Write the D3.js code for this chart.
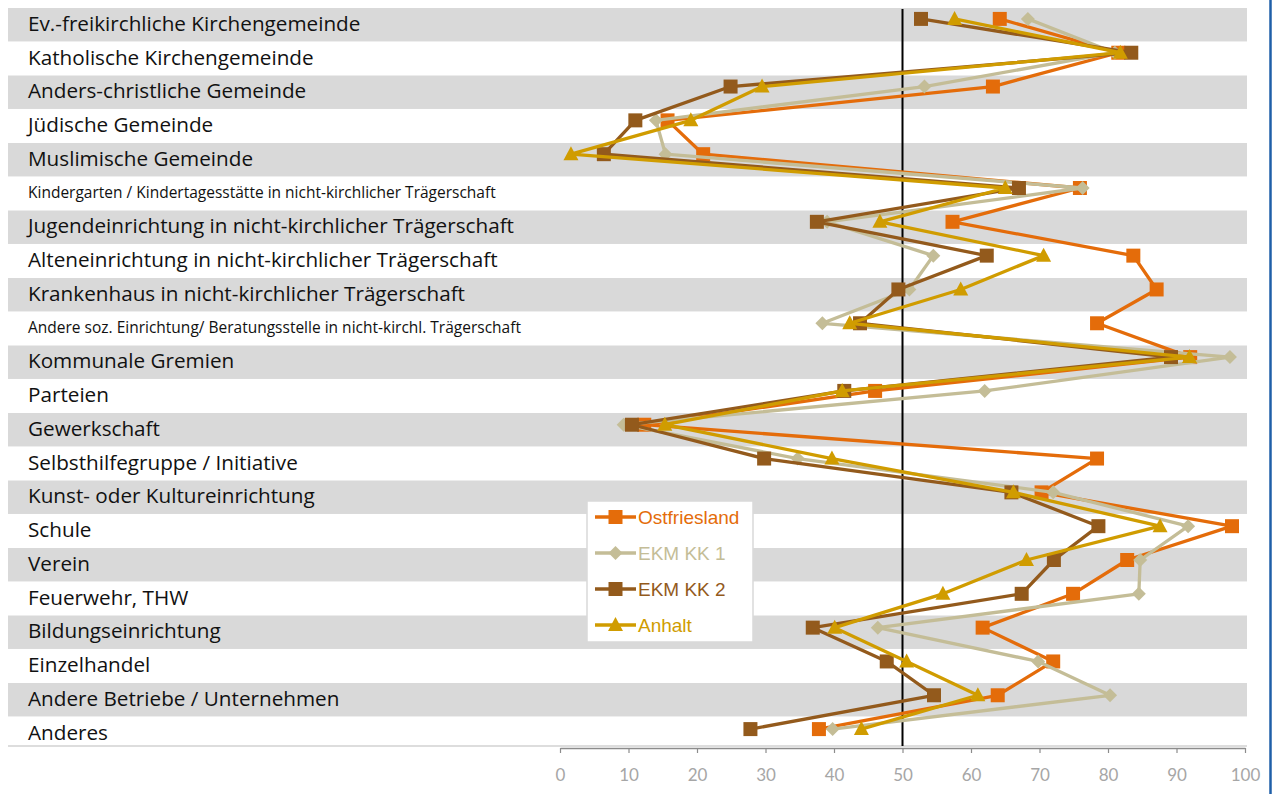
<!DOCTYPE html>
<html>
<head>
<meta charset="utf-8">
<script src="https://cdn.jsdelivr.net/npm/d3@7"></script>
<style>
  html, body { margin: 0; padding: 0; background: #ffffff; }
  svg { display: block; }
</style>
</head>
<body>
<svg id="chart" width="1273" height="794"></svg>
<script>
// Kooperationspartner der Gemeinden (Anteil in %), vier Befragungsgebiete
const categories = [
  "Ev.-freikirchliche Kirchengemeinde",
  "Katholische Kirchengemeinde",
  "Anders-christliche Gemeinde",
  "Jüdische Gemeinde",
  "Muslimische Gemeinde",
  "Kindergarten / Kindertagesstätte in nicht-kirchlicher Trägerschaft",
  "Jugendeinrichtung in nicht-kirchlicher Trägerschaft",
  "Alteneinrichtung in nicht-kirchlicher Trägerschaft",
  "Krankenhaus in nicht-kirchlicher Trägerschaft",
  "Andere soz. Einrichtung/ Beratungsstelle in nicht-kirchl. Trägerschaft",
  "Kommunale Gremien",
  "Parteien",
  "Gewerkschaft",
  "Selbsthilfegruppe / Initiative",
  "Kunst- oder Kultureinrichtung",
  "Schule",
  "Verein",
  "Feuerwehr, THW",
  "Bildungseinrichtung",
  "Einzelhandel",
  "Andere Betriebe / Unternehmen",
  "Anderes"
];

const ostfriesland = [64.2, 81.5, 63.2, 15.7, 20.9, 75.9, 57.3, 83.7, 87.1, 78.4, 92.0,
                      46.0, 12.3, 78.4, 70.3, 98.1, 82.8, 74.9, 61.7, 72.0, 63.9, 37.8];
const ekmKK1      = [68.3, 81.0, 53.2, 14.0, 15.4, 76.3, 39.0, 54.5, 51.0, 38.3, 97.8,
                      62.0,  9.3, 34.7, 72.0, 91.7, 84.7, 84.5, 46.4, 69.8, 80.3, 39.8];
const ekmKK2      = [52.7, 83.4, 24.9, 11.0,  6.4, 67.0, 37.5, 62.3, 49.4, 43.8, 89.2,
                      41.5, 10.5, 29.8, 65.9, 78.6, 72.1, 67.4, 36.9, 47.7, 54.6, 27.8];
const anhalt      = [57.6, 81.8, 29.5, 19.1,  1.6, 65.0, 46.7, 70.6, 58.5, 42.3, 91.9,
                      41.2, 15.3, 39.7, 66.2, 87.6, 68.1, 55.9, 40.1, 50.6, 61.0, 44.0];

const seriesNames = ["Ostfriesland", "EKM KK 1", "EKM KK 2", "Anhalt"];
const xTicks = [0, 10, 20, 30, 40, 50, 60, 70, 80, 90, 100];
const referenceValue = 50;

// ---- appearance ----
const colors = {
  "Ostfriesland": "#E46C0A",
  "EKM KK 1": "#C4BD97",
  "EKM KK 2": "#935A1C",
  "Anhalt": "#D09C00"
};
const markerType = {
  "Ostfriesland": "square",
  "EKM KK 1": "diamond",
  "EKM KK 2": "square",
  "Anhalt": "triangle"
};

const series = [
  { name: "Ostfriesland", values: ostfriesland },
  { name: "EKM KK 1", values: ekmKK1 },
  { name: "EKM KK 2", values: ekmKK2 },
  { name: "Anhalt", values: anhalt }
];

const svg = d3.select("#chart");

// value axis
const x = d3.scaleLinear().domain([0, 100]).range([560, 1245]);
// rows of the category table (stripes and labels)
const rowBand = d3.scaleBand().domain(d3.range(categories.length)).range([8, 750.5]);
// plot rows for the data points
const yBand = d3.scaleBand().domain(d3.range(categories.length)).range([2, 746]);
const yc = i => yBand(i) + yBand.bandwidth() / 2;

// stripes on alternate rows
svg.append("g")
  .selectAll("rect")
  .data(d3.range(categories.length).filter(i => i % 2 === 0))
  .join("rect")
  .attr("x", 8)
  .attr("y", i => rowBand(i))
  .attr("width", 1239)
  .attr("height", rowBand.bandwidth() - 0.3)
  .attr("fill", "#D9D9D9");

// bottom rule of the table
svg.append("line")
  .attr("x1", 8).attr("x2", 1247)
  .attr("y1", 746).attr("y2", 746)
  .attr("stroke", "#DDDDDD").attr("stroke-width", 2);

// category labels
svg.append("g")
  .selectAll("text")
  .data(categories)
  .join("text")
  .attr("x", 28)
  .attr("y", (d, i) => rowBand(i) + rowBand.bandwidth() / 2)
  .attr("dy", "0.29em")
  .attr("font-family", "'Open Sans', Lato, sans-serif")
  .attr("font-size", d => d.length > 60 ? 15.5 : 20.7)
  .attr("fill", "#111111")
  .text(d => d);

// x axis
const axisG = svg.append("g")
  .attr("transform", "translate(0,748)")
  .call(d3.axisBottom(x).tickValues(xTicks).tickSize(5).tickSizeOuter(0).tickPadding(16));
axisG.select(".domain").attr("stroke", "#8C8C8C").attr("stroke-width", 1.5);
axisG.selectAll(".tick line").attr("stroke", "#8C8C8C").attr("stroke-width", 1.2);
axisG.selectAll(".tick text")
  .attr("fill", "#A6A6A6")
  .attr("font-family", "Lato, 'Open Sans', sans-serif")
  .attr("font-size", 17);

// reference line at 50 %
svg.append("line")
  .attr("x1", x(referenceValue)).attr("x2", x(referenceValue))
  .attr("y1", 9).attr("y2", 746)
  .attr("stroke", "#000000").attr("stroke-width", 2);

// marker shapes
function markerPath(type) {
  if (type === "square") {
    const h = 7;
    return `M${-h},${-h}H${h}V${h}H${-h}Z`;
  }
  if (type === "diamond") {
    const h = 7;
    return `M0,${-h}L${h},0L0,${h}L${-h},0Z`;
  }
  // triangle pointing up
  const w = 7.5, t = 8, b = 6;
  return `M0,${-t}L${w},${b}L${-w},${b}Z`;
}

const line = d3.line()
  .x(d => x(d.v))
  .y(d => yc(d.i));

const seriesG = svg.append("g")
  .selectAll("g")
  .data(series)
  .join("g");

seriesG.append("path")
  .attr("d", s => line(s.values.map((v, i) => ({ v, i }))))
  .attr("fill", "none")
  .attr("stroke", s => colors[s.name])
  .attr("stroke-width", 3.3)
  .attr("stroke-linejoin", "round");

seriesG.selectAll("path.marker")
  .data(s => s.values.map((v, i) => ({ v, i, name: s.name })))
  .join("path")
  .attr("class", "marker")
  .attr("transform", d => `translate(${x(d.v)},${yc(d.i)})`)
  .attr("d", d => markerPath(markerType[d.name]))
  .attr("fill", d => colors[d.name]);

// legend
const legend = svg.append("g");
legend.append("rect")
  .attr("x", 587).attr("y", 501)
  .attr("width", 166).attr("height", 141)
  .attr("fill", "#ffffff")
  .attr("stroke", "#D9D9D9").attr("stroke-width", 1.5);

const legendY = d3.scalePoint().domain(seriesNames).range([517, 625]);
const items = legend.selectAll("g.item")
  .data(seriesNames)
  .join("g")
  .attr("class", "item")
  .attr("transform", d => `translate(0,${legendY(d)})`);

items.append("line")
  .attr("x1", 595).attr("x2", 636)
  .attr("stroke", d => colors[d]).attr("stroke-width", 3.3);
items.append("path")
  .attr("transform", "translate(615.5,0)")
  .attr("d", d => markerPath(markerType[d]))
  .attr("fill", d => colors[d]);
items.append("text")
  .attr("x", 638)
  .attr("dy", "0.35em")
  .attr("font-family", "'Liberation Sans', Arial, sans-serif")
  .attr("font-size", 19)
  .attr("fill", d => colors[d])
  .text(d => d);

// frame edge on the right
svg.append("line")
  .attr("x1", 1270.5).attr("x2", 1270.5)
  .attr("y1", 0).attr("y2", 794)
  .attr("stroke", "#1F5FA8").attr("stroke-width", 2.5);
</script>
</body>
</html>
